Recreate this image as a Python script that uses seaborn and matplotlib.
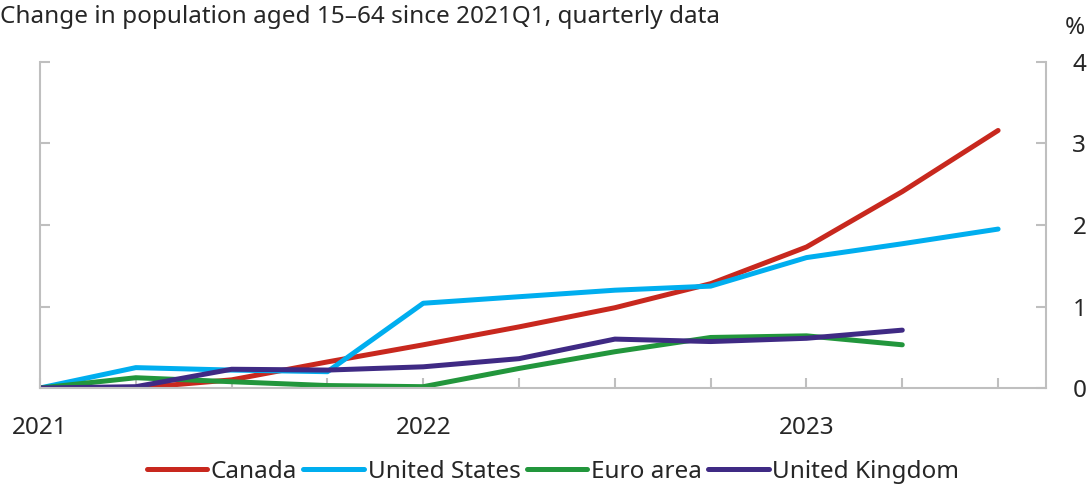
import pandas as pd
import numpy as np
import matplotlib
matplotlib.use("Agg")
import matplotlib.pyplot as plt
import seaborn as sns

# quarters 2021Q1 .. 2023Q3
quarters = ["2021Q1", "2021Q2", "2021Q3", "2021Q4",
            "2022Q1", "2022Q2", "2022Q3", "2022Q4",
            "2023Q1", "2023Q2", "2023Q3"]
year_labels = ["2021", "", "", "", "2022", "", "", "", "2023", "", ""]

canada = [0.0, 0.0, 0.10, 0.32, 0.53, 0.75, 0.985, 1.28, 1.73, 2.41, 3.16]
united_states = [0.0, 0.25, 0.22, 0.20, 1.04, 1.12, 1.20, 1.25, 1.60, 1.77, 1.95]
euro_area = [0.0, 0.126, 0.077, 0.03, 0.016, 0.24, 0.445, 0.62, 0.64, 0.53, np.nan]
united_kingdom = [0.0, 0.016, 0.23, 0.22, 0.26, 0.36, 0.60, 0.57, 0.61, 0.71, np.nan]

series = {
    "Canada": canada,
    "United States": united_states,
    "Euro area": euro_area,
    "United Kingdom": united_kingdom,
}
colors = {
    "Canada": "#C8281E",
    "United States": "#00AEEF",
    "Euro area": "#22963C",
    "United Kingdom": "#3F2A84",
}

rows = []
for name, vals in series.items():
    for i, v in enumerate(vals):
        rows.append({"x": i, "value": v, "series": name})
df = pd.DataFrame(rows).dropna()

sns.set_style("white")
plt.rcParams["font.family"] = ["Noto Sans", "DejaVu Sans"]
FS = 17.5

fig = plt.figure(figsize=(10.9, 4.86), dpi=100)
ax = fig.add_axes([40 / 1090, 1 - 388 / 486, (1046 - 40) / 1090, (388 - 62) / 486])

sns.lineplot(data=df, x="x", y="value", hue="series", palette=colors,
             hue_order=list(series.keys()), linewidth=3.6, ax=ax,
             legend=True)
for line in ax.get_lines():
    line.set_solid_capstyle("round")
    line.set_solid_joinstyle("round")

ax.set_xlim(0, 10.5)
ax.set_ylim(0, 4)
ax.set_xticks(range(len(quarters)))
ax.set_xticklabels(year_labels)
ax.set_yticks([0, 1, 2, 3, 4])
ax.set_xlabel("")
ax.set_ylabel("")

grey = "#BFBFBF"
for side in ["left", "right", "bottom"]:
    ax.spines[side].set_visible(True)
    ax.spines[side].set_color(grey)
    ax.spines[side].set_linewidth(1.5)
ax.spines["top"].set_visible(False)

ax.tick_params(axis="x", direction="in", length=7, width=1.5, color=grey,
               labelsize=FS, pad=20, bottom=True)
ax.tick_params(axis="y", direction="in", length=7, width=1.5, color=grey,
               labelsize=FS, pad=19, left=True, right=True,
               labelleft=False, labelright=True)

fig.text(0.0, 1 - 17 / 486, "Change in population aged 15\u201364 since 2021Q1, quarterly data",
         fontsize=FS, ha="left", va="center")
fig.text(1075 / 1090, 1 - 28 / 486, "%", fontsize=FS, ha="center", va="center")

handles, labels = ax.get_legend_handles_labels()
ax.legend(handles, labels, loc="center", bbox_to_anchor=(553 / 1090, 1 - 472 / 486),
          bbox_transform=fig.transFigure, ncol=4, frameon=False, fontsize=FS,
          handlelength=2.5, handletextpad=0.15, columnspacing=0.25)

fig.savefig("out.png", dpi=100)
